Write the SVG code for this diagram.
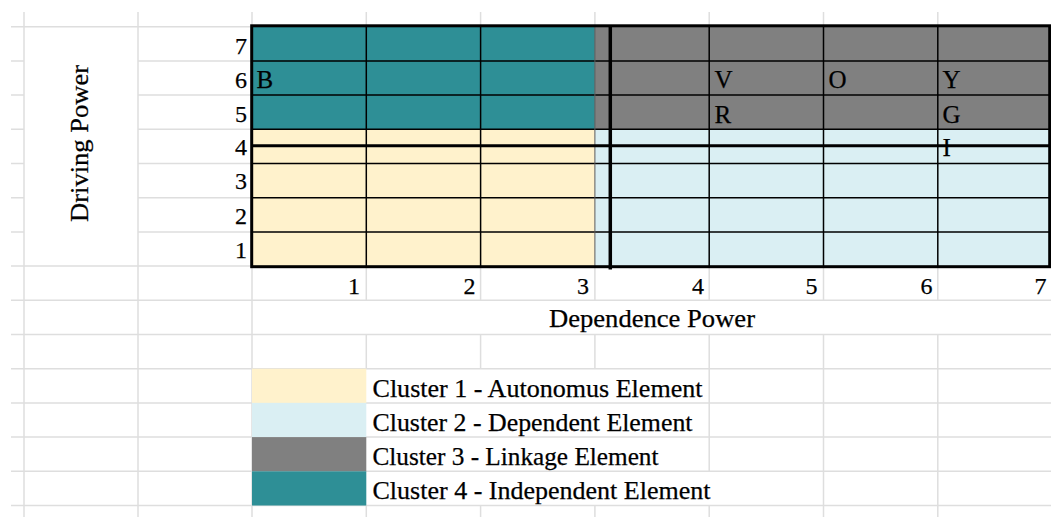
<svg xmlns="http://www.w3.org/2000/svg" width="1051" height="517" viewBox="0 0 1051 517">
<style>
.g{stroke:#dedede;stroke-width:1.5;fill:none}
.thin{stroke:#000;stroke-width:1.5;fill:none}
.thick{stroke:#000;stroke-width:3;fill:none}
.t{font-family:"Liberation Serif","Times New Roman",serif;font-size:25px;fill:#000;stroke:#000;stroke-width:0.25}
.n{font-family:"Liberation Serif","Times New Roman",serif;font-size:24px;fill:#000;stroke:#000;stroke-width:0.25;text-anchor:end}
</style>
<rect x="0" y="0" width="1051" height="517" fill="#fff"/>
<g id="gridlines">
<path class="g" d="M24 12V517M138 12V517M252 12V27M252 266V517
M366.3 12V27M366.3 266V300.3M366.3 334.5V369M366.3 505.5V517
M480.6 12V27M480.6 266V300.3M480.6 334.5V368.7M480.6 505.5V517
M594.9 12V27M594.9 266V300.3M594.9 334.5V368.7M594.9 505.5V517
M709.2 12V27M709.2 266V300.3M709.2 334.5V471.3M709.2 505.5V517
M823.5 12V27M823.5 266V300.3M823.5 334.5V517
M937.8 12V27M937.8 266V300.3M937.8 334.5V517"/>
<path class="g" d="M11 26.7H252M11 60.9H24M138 60.9H252M11 95.1H24M138 95.1H252M11 129.3H24M138 129.3H252M11 163.5H24M138 163.5H252M11 197.7H24M138 197.7H252M11 231.9H24M138 231.9H252M11 266.1H252
M11 300.3H1051M11 334.5H1051M11 368.7H1051M11 402.9H1051M11 437.1H1051M11 471.3H1051M11 505.5H1051"/>
</g>
<g id="matrix">
<rect x="252" y="26.7" width="342.9" height="102.6" fill="#2e8f96"/>
<rect x="594.9" y="26.7" width="456.1" height="102.6" fill="#808080"/>
<rect x="252" y="129.3" width="342.9" height="136.8" fill="#fff2cc"/>
<rect x="594.9" y="129.3" width="456.1" height="136.8" fill="#daeff3"/>
<path class="thin" d="M252 60.9H1050M252 95.1H1050M252 129.3H1050M252 163.5H1050M252 197.7H1050M252 231.9H1050
M366.3 26.7V266M480.6 26.7V266M709.2 26.7V266M823.5 26.7V266M937.8 26.7V266"/>
<path d="M594.9 26.7V266" stroke="#5a5a5a" stroke-width="1"/>
<rect class="thick" x="251.7" y="25.8" width="798" height="240.9"/>
<path class="thick" d="M252 145.7H1050"/>
<path d="M610.3 26V269.5" stroke="#000" stroke-width="3.5"/>
</g>
<g id="axis-labels">
<text class="n" x="247" y="54">7</text>
<text class="n" x="247" y="88">6</text>
<text class="n" x="247" y="121.5">5</text>
<text class="n" x="247" y="155">4</text>
<text class="n" x="247" y="189">3</text>
<text class="n" x="247" y="223.5">2</text>
<text class="n" x="247" y="257.5">1</text>
<text class="n" x="360" y="294">1</text>
<text class="n" x="475.5" y="294">2</text>
<text class="n" x="589" y="294">3</text>
<text class="n" x="704" y="294">4</text>
<text class="n" x="817.5" y="294">5</text>
<text class="n" x="932.5" y="294">6</text>
<text class="n" x="1046.5" y="294">7</text>
<text class="t" x="549" y="327" textLength="206" lengthAdjust="spacingAndGlyphs">Dependence Power</text>
<text class="t" transform="translate(88,143.5) rotate(-90)" text-anchor="middle" textLength="157" lengthAdjust="spacingAndGlyphs">Driving Power</text>
</g>
<g id="elements">
<text class="t" x="256.5" y="88">B</text>
<text class="t" x="714.5" y="87.5">V</text>
<text class="t" x="828.5" y="87.5">O</text>
<text class="t" x="942.5" y="87.5">Y</text>
<text class="t" x="714.5" y="122.5">R</text>
<text class="t" x="942.5" y="123">G</text>
<text class="t" x="942.5" y="156">I</text>
</g>
<g id="legend">
<rect x="252" y="368.7" width="114.3" height="34.2" fill="#fff2cc"/>
<rect x="252" y="402.9" width="114.3" height="34.2" fill="#daeff3"/>
<rect x="252" y="437.1" width="114.3" height="34.2" fill="#808080"/>
<rect x="252" y="471.3" width="114.3" height="34.2" fill="#2e8f96"/>
<text class="t" x="372.5" y="396.5" textLength="330" lengthAdjust="spacingAndGlyphs">Cluster 1 - Autonomus Element</text>
<text class="t" x="372.5" y="430.5" textLength="320" lengthAdjust="spacingAndGlyphs">Cluster 2 - Dependent Element</text>
<text class="t" x="372.5" y="464.8" textLength="286" lengthAdjust="spacingAndGlyphs">Cluster 3 - Linkage Element</text>
<text class="t" x="372.5" y="499" textLength="338" lengthAdjust="spacingAndGlyphs">Cluster 4 - Independent Element</text>
</g>
</svg>
